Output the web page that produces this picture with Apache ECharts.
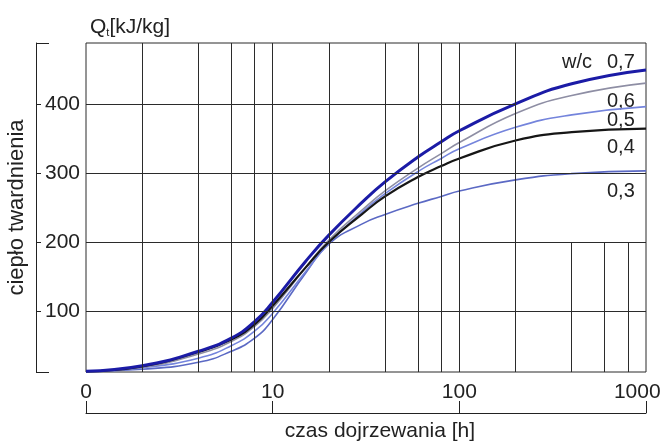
<!DOCTYPE html>
<html>
<head>
<meta charset="utf-8">
<script src="https://cdn.jsdelivr.net/npm/echarts@6/dist/echarts.min.js"></script>
<style>
  html, body { margin: 0; padding: 0; background: #fff; }
  #chart { width: 660px; height: 441px; }
</style>
</head>
<body>
<div id="chart"></div>
<script>
// Hardening time [h] at which the heat of hydration was sampled
const hours = [1, 2, 4, 6, 8, 10, 15, 20, 30, 40, 60, 80, 100, 200, 400, 1000];

// Heat of hardening Q_t [kJ/kg] for each water/cement ratio
const wc07 = [13, 21, 42, 61, 85, 113, 172, 210, 257, 287, 323, 345, 361, 400, 429, 449];
const wc06 = [13, 19, 38, 56, 78, 104, 163, 203, 246, 274, 307, 328, 344, 386, 412, 430];
const wc05 = [13, 18, 32, 50, 71, 97, 157, 198, 243, 270, 302, 321, 335, 366, 384, 396];
const wc04 = [13, 20, 41, 59, 81, 108, 163, 200, 240, 266, 294, 310, 321, 347, 359, 364];
const wc03 = [13, 16, 26, 42, 61, 88, 155, 197, 226, 240, 256, 266, 274, 290, 299, 303];

const seriesNames = ['0,7', '0,6', '0,5', '0,4', '0,3'];

// Axis ranges and tick labels
const yMin = 12, yMax = 488;
const yTickValues = [100, 200, 300, 400];
const xMin = 1, xMax = 1000;

// Grid lines of the diagram
const vLinesFull = [2, 4, 6, 8, 10, 20, 40, 60, 80, 100, 200];
const vLinesLow = [400, 600, 800];        // drawn only up to Q = 200
const vLinesLowTop = 200;
const hLinesFull = [100, 200, 300];
const hLineShort = 400;                   // drawn only up to t = 200 h
const hLineShortEnd = 200;

const FONT = '"Liberation Sans", Arial, sans-serif';
const INK = '#222';
const GRID = '#2b2b2b';

const chart = echarts.init(document.getElementById('chart'), null, { renderer: 'canvas' });

const pairs = vals => hours.map((h, i) => [h, vals[i]]);

const gridLines = []
  .concat(vLinesFull.map(x => [{ coord: [x, yMin] }, { coord: [x, yMax] }]))
  .concat(vLinesLow.map(x => [{ coord: [x, yMin] }, { coord: [x, vLinesLowTop] }]))
  .concat(hLinesFull.map(y => [{ coord: [xMin, y] }, { coord: [xMax, y] }]))
  .concat([[{ coord: [xMin, hLineShort] }, { coord: [hLineShortEnd, hLineShort] }]]);

function curve(name, data, color, width) {
  return {
    name: name,
    type: 'line',
    data: pairs(data),
    showSymbol: false,
    smooth: 0.5,
    z: 3,
    lineStyle: { color: color, width: width },
    emphasis: { disabled: true }
  };
}

// the last time label is nudged left so that it stays inside the canvas
const NBSP3 = '\u00a0\u00a0\u00a0';

const option = {
  animation: false,
  backgroundColor: '#fff',
  grid: {
    left: 86, right: 14, top: 43, bottom: 69,
    outerBoundsMode: 'none',
    containLabel: false,
    show: true, borderColor: GRID, borderWidth: 1, backgroundColor: 'transparent'
  },
  xAxis: {
    type: 'log',
    logBase: 10,
    min: xMin,
    max: xMax,
    position: 'bottom',
    offset: 41,
    axisLine: { show: true, lineStyle: { color: INK, width: 1 } },
    axisTick: { show: true, inside: true, length: 12, lineStyle: { color: INK, width: 1 } },
    minorTick: { show: false },
    splitLine: { show: false },
    axisLabel: {
      inside: true,
      margin: 10,
      showMinLabel: true,
      showMaxLabel: true,
      hideOverlap: false,
      fontFamily: FONT,
      fontSize: 21,
      color: INK,
      formatter: v => v === xMin ? '0' : (v === xMax ? String(v) + NBSP3 : String(v))
    },
    name: 'czas dojrzewania [h]',
    nameLocation: 'middle',
    nameGap: 8,
    nameTextStyle: { fontFamily: FONT, fontSize: 21, color: INK, padding: [0, 0, 0, 28] }
  },
  yAxis: [
    {
      type: 'value',
      min: yMin,
      max: yMax,
      position: 'left',
      offset: 50,
      axisLine: { show: true, lineStyle: { color: INK, width: 1 } },
      axisTick: { show: true, inside: true, length: 5, customValues: yTickValues, lineStyle: { color: INK } },
      axisLabel: {
        inside: true, margin: 9, customValues: yTickValues,
        fontFamily: FONT, fontSize: 21, color: INK
      },
      splitLine: { show: false },
      name: 'ciepło twardnienia',
      nameLocation: 'middle',
      nameRotate: 90,
      nameGap: -6,
      nameTextStyle: { fontFamily: FONT, fontSize: 22, color: INK }
    },
    {
      // end caps of the bracket-shaped value axis
      type: 'value',
      min: yMin,
      max: yMax,
      position: 'left',
      offset: 50,
      axisLine: { show: false },
      axisTick: { show: true, inside: true, length: 13, customValues: [yMin, yMax], lineStyle: { color: INK } },
      axisLabel: { show: false },
      splitLine: { show: false }
    }
  ],
  series: [
    {
      name: 'grid',
      type: 'line',
      data: [],
      z: 1,
      silent: true,
      markLine: {
        silent: true,
        symbol: 'none',
        label: { show: false },
        emphasis: { disabled: true },
        lineStyle: { color: GRID, width: 1, type: 'solid' },
        data: gridLines
      }
    },
    curve(seriesNames[4], wc03, '#5b69c4', 1.6),
    curve(seriesNames[2], wc05, '#7484dc', 1.6),
    curve(seriesNames[1], wc06, '#8e8ea4', 1.6),
    curve(seriesNames[3], wc04, '#161616', 2.2),
    curve(seriesNames[0], wc07, '#1b1ba6', 3)
  ],
  graphic: [
    {
      type: 'text', left: 90, top: 17,
      style: {
        text: '{q|Q}{s|t}{q|[kJ/kg]}',
        rich: {
          q: { fontFamily: FONT, fontSize: 21, fill: INK },
          s: { fontFamily: FONT, fontSize: 11, fill: INK, verticalAlign: 'bottom' }
        }
      }
    },
    { type: 'text', x: 562, y: 62, style: { text: 'w/c', fontFamily: FONT, fontSize: 20, fill: INK, verticalAlign: 'middle' } },
    { type: 'text', x: 607, y: 62, style: { text: seriesNames[0], fontFamily: FONT, fontSize: 20, fill: INK, verticalAlign: 'middle' } },
    { type: 'text', x: 607, y: 101, style: { text: seriesNames[1], fontFamily: FONT, fontSize: 20, fill: INK, verticalAlign: 'middle' } },
    { type: 'text', x: 607, y: 120, style: { text: seriesNames[2], fontFamily: FONT, fontSize: 20, fill: INK, verticalAlign: 'middle' } },
    { type: 'text', x: 607, y: 147, style: { text: seriesNames[3], fontFamily: FONT, fontSize: 20, fill: INK, verticalAlign: 'middle' } },
    { type: 'text', x: 607, y: 191, style: { text: seriesNames[4], fontFamily: FONT, fontSize: 20, fill: INK, verticalAlign: 'middle' } }
  ]
};

chart.setOption(option);
</script>
</body>
</html>
